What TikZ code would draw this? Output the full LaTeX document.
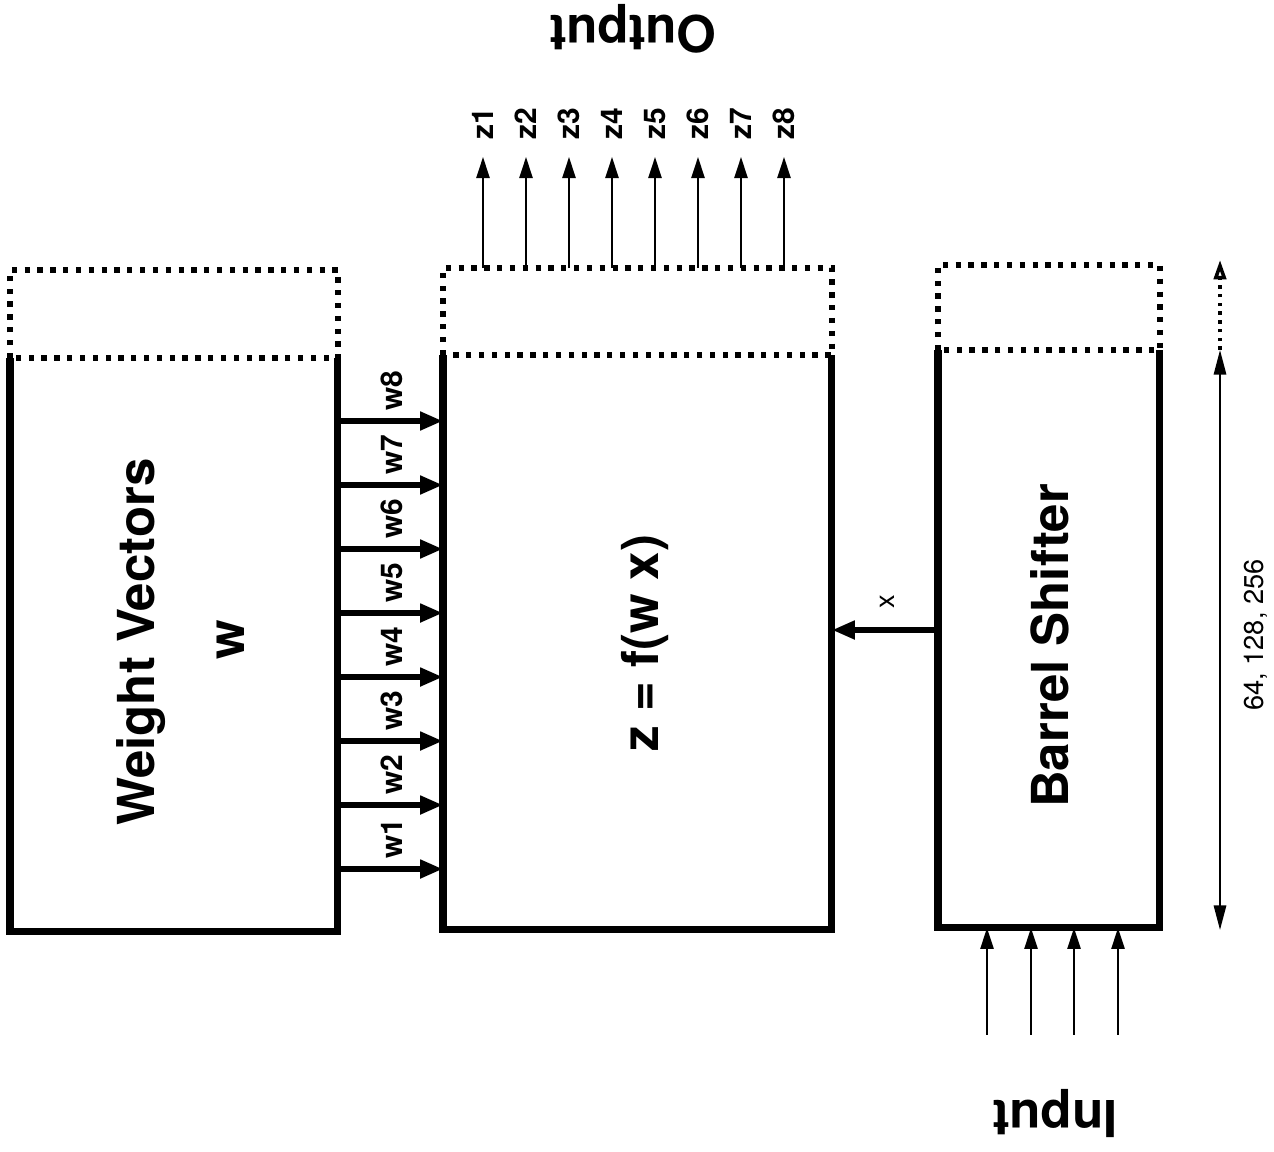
\documentclass[tikz,border=0pt]{standalone}
\usepackage{fontspec}
\setmainfont{TeX Gyre Heros}
\usepackage{tikz}
\usetikzlibrary{arrows.meta, calc, positioning}

\tikzset{
  box/.style={inner sep=0pt, outer sep=0pt, anchor=north west},
  edge/.style={line width=4pt, line cap=square, line join=miter},
  dots/.style={line width=3.2pt, dash pattern=on 3pt off 4.3pt},
  bus/.style={line width=3.4pt, -{Triangle[length=13pt, width=10pt]}},
  pin/.style={line width=1.2pt, -{Triangle[length=12pt, width=7.5pt]}},
  title/.style={font=\fontsize{29}{34}\selectfont\bfseries},
  lbl/.style={font=\fontsize{17}{20}\selectfont\bfseries},
  note/.style={font=\fontsize{15.5}{18}\selectfont},
}

\begin{document}
\begin{tikzpicture}[x=0.02cm, y=-0.02cm]
  \useasboundingbox (0,0) rectangle (1274,1152);

  % Blocks
  \node[box, minimum width=6.56cm, minimum height=11.48cm] (wv) at (10,358) {};
  \node[box, minimum width=7.78cm, minimum height=11.5cm] (fb) at (443,355) {};
  \node[box, minimum width=4.44cm, minimum height=11.56cm] (bs) at (938,350) {};

  \foreach \b/\h in {wv/88, fb/87, bs/85} {
    \draw[edge] (\b.north west) -- (\b.south west) -- (\b.south east) -- (\b.north east);
    \draw[dots] (\b.north west) -- ++(0,-\h) -| (\b.north east) -- cycle;
  }

  % Block texts
  \node[title, rotate=90] (wvname) at (141,642) {Weight Vectors};
  \node[title, rotate=90] (wvsym) at (231,640) {w};
  \node[title, rotate=90] (fbname) at (645,643) {z = f(w x)};
  \node[title, rotate=90] (bsname) at (1050,646) {Barrel Shifter};

  % Weight buses
  \foreach \i in {1,...,8} {
    \coordinate (wa\i) at ($(wv.north east)+(0,{575-64*\i})$);
    \draw[bus] (wa\i) -- (wa\i -| fb.west);
    \node[lbl, rotate=90] (w\i) at ($(wa\i)+(54,-30)$) {w\i};
  }

  % Outputs
  \foreach \i in {1,...,8} {
    \coordinate (zb\i) at ($(fb.north west)+({43*\i-3},-87)$);
    \node[lbl, rotate=90, anchor=west, inner xsep=9.6pt] (z\i) at ($(zb\i)+(0,-111)$) {z\i};
    \draw[pin] (zb\i) -- (z\i);
  }
  \node[title, rotate=180] (out) at (633,29) {Output};

  % Inputs of the barrel shifter
  \foreach \i/\dx in {1/49, 2/93, 3/136, 4/180} {
    \coordinate (in\i) at ($(bs.south west)+(\dx,107)$);
    \draw[pin] (in\i) -- (in\i |- bs.south);
  }
  \node[title, rotate=180] (inp) at (1055,1114) {Input};

  % Shifted x
  \coordinate (xa) at ($(bs.north west)+(0,280)$);
  \draw[bus] (xa) -- (xa -| fb.east);
  \node[note, rotate=90] (xlbl) at (887,602) {x};

  % Vector length
  \coordinate (dtop) at (1220,350);
  \coordinate (dbot) at (1220,930);
  \coordinate (dext) at (1220,260);
  \draw[line width=1.2pt, {Triangle[length=14pt, width=7pt]}-{Triangle[length=14pt, width=7pt]}] (dtop) -- (dbot);
  \draw[line width=2pt, dash pattern=on 2pt off 3pt, -{Triangle[open, length=11pt, width=7pt]}] (dtop) -- (dext);
  \node[note, rotate=90] (vlen) at (1256,635) {64, 128, 256};
\end{tikzpicture}
\end{document}
